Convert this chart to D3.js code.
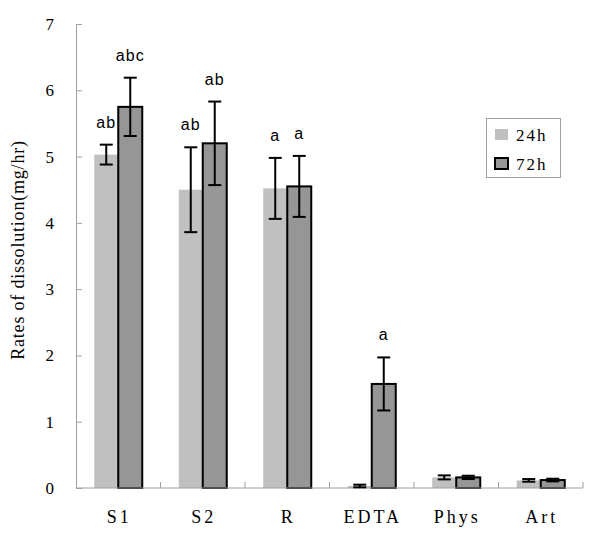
<!DOCTYPE html>
<html>
<head>
<meta charset="utf-8">
<script src="https://cdn.jsdelivr.net/npm/d3@7"></script>
<style>
  body { margin: 0; background: #fff; }
  svg { display: block; }
</style>
</head>
<body>
<svg id="chart" width="600" height="544"></svg>
<script>
// values
const categories = ["S1", "S2", "R", "EDTA", "Phys", "Art"];
const series = ["24h", "72h"];
const mean24 = [5.03, 4.50, 4.52, 0.03, 0.16, 0.115];
const err24 = [0.15, 0.64, 0.46, 0.02, 0.03, 0.02];
const mean72 = [5.75, 5.20, 4.55, 1.57, 0.16, 0.12];
const err72 = [0.44, 0.63, 0.46, 0.40, 0.025, 0.02];
const letters24 = ["ab", "ab", "a", "", "", ""];
const letters72 = ["abc", "ab", "a", "a", "", ""];
const yTicks = [0, 1, 2, 3, 4, 5, 6, 7];

const svg = d3.select("#chart");
const mLeft = 76, mRight = 583, mTop = 24, mBottom = 488;

const x0 = d3.scaleBand().domain(categories).range([mLeft, mRight]).padding(0);
const x1 = d3.scaleBand().domain(series).range([0, 48]);
const y = d3.scaleLinear().domain([0, 7]).range([mBottom, mTop]);

const fill = { "24h": "#c0c0c0", "72h": "#969696" };

const rows = [];
categories.forEach((c, i) => {
  rows.push({ cat: c, s: "24h", v: mean24[i], e: err24[i], lab: letters24[i] });
  rows.push({ cat: c, s: "72h", v: mean72[i], e: err72[i], lab: letters72[i] });
});
const bx = d => x0(d.cat) + x0.bandwidth() / 2 - 24 + x1(d.s);

// y axis (ticks point inward like the original)
const yAxis = svg.append("g")
    .attr("transform", "translate(" + mLeft + ",0)")
    .call(d3.axisRight(y).tickValues(yTicks).tickSize(6).tickFormat(""));
yAxis.select(".domain").attr("stroke", "#a0a0a0");
yAxis.selectAll(".tick line").attr("stroke", "#a0a0a0");

svg.append("g").selectAll("text")
  .data(yTicks)
  .join("text")
    .attr("x", 54)
    .attr("y", d => y(d) + 6)
    .attr("text-anchor", "end")
    .attr("font-family", "Liberation Serif, Times New Roman, serif")
    .attr("font-size", 17)
    .text(d => d);

// bars
svg.append("g").selectAll("rect")
  .data(rows)
  .join("rect")
    .attr("x", d => bx(d))
    .attr("y", d => y(d.v))
    .attr("width", x1.bandwidth())
    .attr("height", d => y(0) - y(d.v))
    .attr("fill", d => fill[d.s])
    .attr("stroke", d => d.s === "72h" ? "#000" : "none")
    .attr("stroke-width", 2);

// x axis
const xAxis = svg.append("g")
    .attr("transform", "translate(0," + mBottom + ")");
xAxis.append("line")
    .attr("x1", mLeft).attr("x2", mRight)
    .attr("stroke", "#a0a0a0");
xAxis.selectAll("line.tk")
  .data(categories)
  .join("line")
    .attr("class", "tk")
    .attr("x1", d => x0(d) + x0.bandwidth())
    .attr("x2", d => x0(d) + x0.bandwidth())
    .attr("y1", 0).attr("y2", -6)
    .attr("stroke", "#a0a0a0");
xAxis.selectAll("text")
  .data(categories)
  .join("text")
    .attr("x", d => x0(d) + x0.bandwidth() / 2 + 1)
    .attr("y", 35)
    .attr("text-anchor", "middle")
    .attr("font-family", "Liberation Serif, Times New Roman, serif")
    .attr("font-size", 18)
    .attr("letter-spacing", 3)
    .text(d => d);

// error bars
const eb = svg.append("g").attr("stroke", "#000").attr("stroke-width", 2);
rows.forEach(d => {
  const cx = bx(d) + x1.bandwidth() / 2;
  eb.append("line").attr("x1", cx).attr("x2", cx).attr("y1", y(d.v + d.e)).attr("y2", y(d.v - d.e));
  eb.append("line").attr("x1", cx - 6.5).attr("x2", cx + 6.5).attr("y1", y(d.v + d.e)).attr("y2", y(d.v + d.e));
  eb.append("line").attr("x1", cx - 6.5).attr("x2", cx + 6.5).attr("y1", y(d.v - d.e)).attr("y2", y(d.v - d.e));
});

// significance letters
svg.append("g").selectAll("text")
  .data(rows.filter(d => d.lab))
  .join("text")
    .attr("x", d => bx(d) + x1.bandwidth() / 2)
    .attr("y", d => y(d.v + d.e) - 17)
    .attr("text-anchor", "middle")
    .attr("font-family", "Liberation Sans, Arial, sans-serif")
    .attr("font-size", 16)
    .attr("letter-spacing", 1)
    .text(d => d.lab);

// y title
svg.append("text")
    .attr("transform", "translate(24,250) rotate(-90)")
    .attr("text-anchor", "middle")
    .attr("font-family", "Liberation Serif, Times New Roman, serif")
    .attr("font-size", 18)
    .attr("letter-spacing", 0.8)
    .text("Rates of dissolution(mg/hr)");

// legend
const lg = svg.append("g");
lg.append("rect")
    .attr("x", 486.5).attr("y", 118.5).attr("width", 74).attr("height", 59)
    .attr("fill", "#fff").attr("stroke", "#a0a0a0");
lg.selectAll("rect.sw")
  .data(series)
  .join("rect")
    .attr("class", "sw")
    .attr("x", 495)
    .attr("y", (d, i) => 129 + i * 29)
    .attr("width", 13).attr("height", 11)
    .attr("fill", d => fill[d])
    .attr("stroke", d => d === "72h" ? "#000" : "none")
    .attr("stroke-width", 2);
lg.selectAll("text")
  .data(series)
  .join("text")
    .attr("x", 516)
    .attr("y", (d, i) => 141 + i * 29)
    .attr("font-family", "Liberation Serif, Times New Roman, serif")
    .attr("font-size", 17)
    .attr("letter-spacing", 2)
    .text(d => d);
</script>
</body>
</html>
